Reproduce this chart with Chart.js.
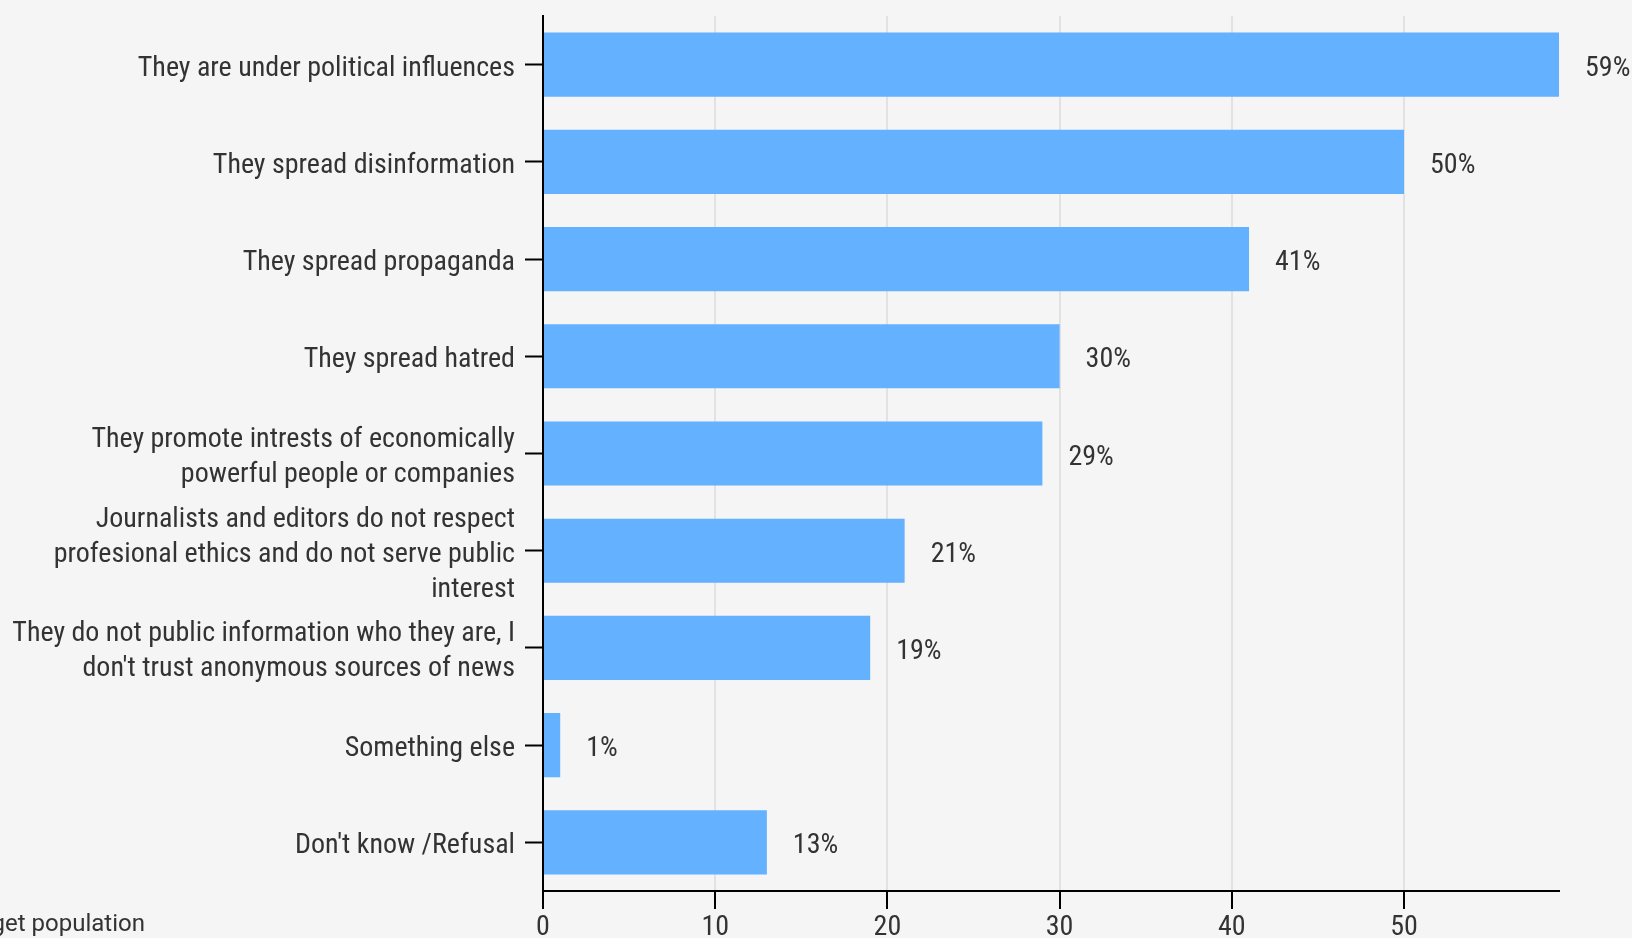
<!DOCTYPE html>
<html>
<head>
<meta charset="utf-8">
<script src="https://cdn.jsdelivr.net/npm/chart.js@4"></script>
<style>
  html, body { margin: 0; padding: 0; background: #f5f5f5; }
  #wrap { width: 1632px; height: 938px; position: relative; }
</style>
</head>
<body>
<div id="wrap"><canvas id="chart"></canvas></div>
<script>
// Categorías (etiquetas del eje Y)
const categories = [
    'They are under political influences',
    'They spread disinformation',
    'They spread propaganda',
    'They spread hatred',
    ['They promote intrests of economically', 'powerful people or companies'],
    ['Journalists and editors do not respect', 'profesional ethics and do not serve public', 'interest'],
    ['They do not public information who they are, I', "don't trust anonymous sources of news"],
    'Something else',
    "Don't know /Refusal"
];

// Porcentajes
const shares = [59, 50, 41, 30, 29, 21, 19, 1, 13];

// Ticks del eje X
const xTicks = [0, 10, 20, 30, 40, 50];

const footnote = 'target population';

const labelFont = "'Roboto Condensed', 'Liberation Sans Narrow', 'DejaVu Sans Condensed', Roboto, sans-serif";

// Plugin: etiquetas de valor al final de cada barra
const valueLabels = {
    id: 'valueLabels',
    afterDatasetsDraw(chart) {
        const ctx = chart.ctx;
        const meta = chart.getDatasetMeta(0);
        ctx.save();
        ctx.font = '28px ' + labelFont;
        ctx.fillStyle = '#333333';
        ctx.textAlign = 'left';
        ctx.textBaseline = 'middle';
        meta.data.forEach((bar, i) => {
            ctx.fillText(shares[i] + '%', bar.x + 26, bar.y + 4);
        });
        ctx.restore();
    }
};

// Plugin: nota al pie recortada a la izquierda
const footnotePlugin = {
    id: 'footnotePlugin',
    afterDraw(chart) {
        const ctx = chart.ctx;
        ctx.save();
        ctx.font = '24px Roboto, sans-serif';
        ctx.fillStyle = '#333333';
        ctx.textAlign = 'right';
        ctx.textBaseline = 'alphabetic';
        ctx.fillText(footnote, 145, 931);
        ctx.restore();
    }
};

const ctx = document.getElementById('chart').getContext('2d');
new Chart(ctx, {
    type: 'bar',
    data: {
        labels: categories,
        datasets: [{
            data: shares,
            backgroundColor: '#63b1ff',
            borderWidth: 0,
            categoryPercentage: 0.66,
            barPercentage: 1.0
        }]
    },
    options: {
        indexAxis: 'y',
        responsive: true,
        maintainAspectRatio: false,
        animation: false,
        layout: {
            padding: { top: 16, right: 73, left: 0, bottom: 0 }
        },
        plugins: {
            legend: { display: false },
            tooltip: { enabled: false }
        },
        scales: {
            x: {
                min: 0,
                max: 59,
                afterBuildTicks(scale) {
                    scale.ticks = xTicks.map(v => ({ value: v }));
                },
                afterFit(scale) {
                    scale.height = 47;
                },
                border: { display: true, color: '#000000', width: 2 },
                grid: {
                    color: '#e2e2e2',
                    lineWidth: 2,
                    tickColor: '#000000',
                    tickLength: 18,
                    drawTicks: true
                },
                ticks: {
                    color: '#333333',
                    padding: 2,
                    font: { family: labelFont, size: 28 }
                }
            },
            y: {
                afterFit(scale) {
                    scale.width = 543;
                    scale.paddingTop = 0;
                    scale.paddingBottom = 0;
                },
                border: { display: true, color: '#000000', width: 2 },
                grid: {
                    drawOnChartArea: false,
                    offset: false,
                    tickColor: '#000000',
                    tickWidth: 2,
                    tickLength: 18,
                    drawTicks: true
                },
                ticks: {
                    autoSkip: false,
                    color: '#333333',
                    padding: 10,
                    labelOffset: 4,
                    font: { family: labelFont, size: 28, lineHeight: 1.25 }
                }
            }
        }
    },
    plugins: [valueLabels, footnotePlugin]
});
</script>
</body>
</html>
